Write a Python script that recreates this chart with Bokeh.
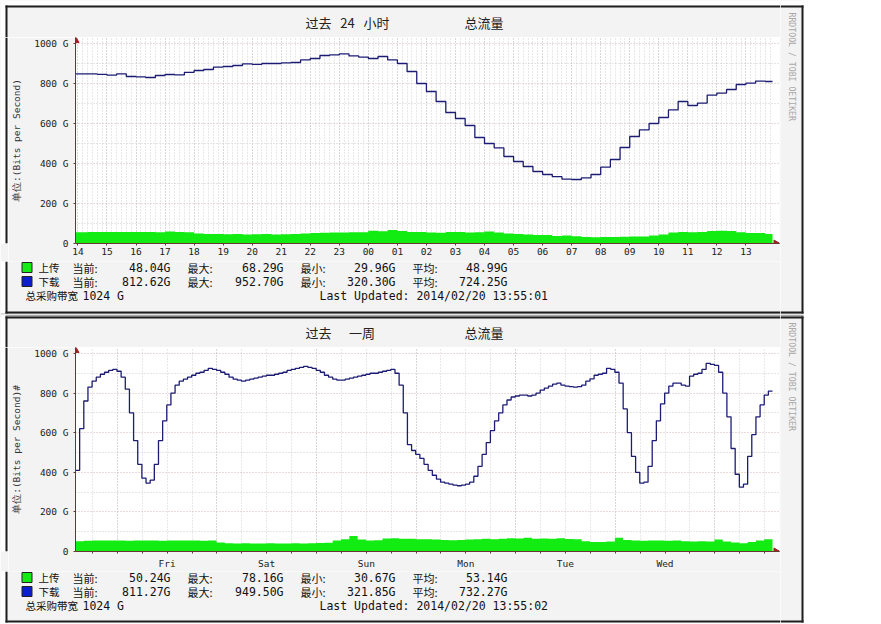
import math
from bokeh.plotting import figure
from bokeh.models import FixedTicker, Range1d
from bokeh.core.properties import value
from bokeh.layouts import column, row
from bokeh.embed import file_html
from bokeh.resources import INLINE

# ---------------- data ----------------
# last 24 hours, 20-minute samples starting 14:00 (hours since 02/19 00:00)
day_start, day_end = 13 + 55 / 60, 37 + 55 / 60
day_download = [848, 848, 846, 842, 848, 835, 833, 830, 840, 845,
                843, 856, 865, 870, 882, 885, 890, 898, 896, 900,
                900, 903, 905, 918, 925, 940, 943, 948, 938, 932,
                925, 935, 918, 900, 860, 800, 760, 710, 655, 625,
                590, 530, 500, 478, 435, 410, 385, 360, 345, 334,
                322, 320, 328, 345, 382, 420, 480, 535, 568, 600,
                630, 668, 710, 690, 702, 742, 752, 770, 795, 802,
                812, 810]
day_upload = [56, 57, 58, 57, 58, 57, 57, 58, 56, 60,
              57, 56, 50, 48, 47, 46, 47, 45, 46, 47,
              45, 46, 48, 50, 52, 54, 55, 55, 56, 56,
              64, 61, 68, 62, 58, 57, 55, 54, 57, 57,
              55, 56, 60, 55, 50, 48, 45, 42, 42, 38,
              40, 36, 32, 31, 32, 33, 34, 35, 35, 40,
              45, 55, 57, 56, 57, 62, 64, 62, 56, 52,
              52, 48]
day_tick_hours = list(range(14, 38))
day_tick_labels = ["14", "15", "16", "17", "18", "19", "20", "21", "22", "23", "00", "01",
                   "02", "03", "04", "05", "06", "07", "08", "09", "10", "11", "12", "13"]

# last week, hourly download / 2-hourly upload (hours since Thu 02/13 00:00)
week_start, week_end = 13 + 55 / 60, 181 + 55 / 60
week_download = [410, 620, 760, 830, 860, 880, 895, 905, 915, 920,
                 910, 880, 820, 700, 560, 440, 370, 345, 360, 440, 560, 660, 740, 800,
                 840, 860, 870, 880, 890, 900, 905, 915, 925, 920,
                 915, 905, 895, 880, 870, 865, 860, 865, 870, 875, 880, 885, 890, 890,
                 895, 900, 905, 915, 920, 925, 930, 935, 930, 925,
                 915, 905, 890, 880, 870, 865, 865, 870, 875, 880, 885, 890, 895, 900,
                 900, 905, 910, 915, 920, 900, 840, 700, 540, 510,
                 490, 470, 440, 410, 385, 365, 350, 345, 340, 335, 332, 335, 340, 350,
                 380, 430, 490, 550, 610, 660, 700, 740, 765, 780,
                 785, 790, 790, 785, 790, 800, 815, 825, 835, 845, 850, 840, 835, 832,
                 830, 832, 840, 860, 872, 890, 895, 900, 925, 920,
                 905, 850, 720, 600, 480, 400, 345, 350, 430, 560, 660, 745, 800, 835,
                 850, 850, 840, 835, 885, 895, 900, 920, 950, 945,
                 940, 905, 800, 680, 520, 390, 325, 340, 480, 590, 680, 740, 790, 810]
week_upload = [52, 54, 55, 55, 56, 55, 54, 55, 56, 55,
               54, 55, 55, 56, 55, 54, 55, 45, 42, 41,
               42, 40, 41, 42, 41, 40, 42, 41, 42, 43,
               44, 55, 62, 78, 60, 56, 57, 66, 67, 65,
               64, 62, 62, 60, 58, 57, 58, 60, 62, 64,
               62, 65, 67, 66, 70, 65, 66, 64, 67, 63,
               62, 52, 48, 48, 50, 70, 58, 56, 54, 55,
               56, 54, 55, 52, 50, 52, 50, 60, 50, 45,
               42, 48, 55, 62]
week_tick_hours = [36, 60, 84, 108, 132, 156]
week_tick_labels = ["Fri", "Sat", "Sun", "Mon", "Tue", "Wed"]

y_ticks = [0, 200, 400, 600, 800, 1000]
y_tick_labels = ["0", "200 G", "400 G", "600 G", "800 G", "1000 G"]

stat_names = ["当前:", "最大:", "最小:", "平均:"]
day_up_stats = ["48.04G", "68.29G", "29.96G", "48.99G"]
day_down_stats = ["812.62G", "952.70G", "320.30G", "724.25G"]
week_up_stats = ["50.24G", "78.16G", "30.67G", "53.14G"]
week_down_stats = ["811.27G", "949.50G", "321.85G", "732.27G"]
series_names = ["上传", "下载"]
bandwidth = "1024 G"
day_updated = "Last Updated: 2014/02/20 13:55:01"
week_updated = "Last Updated: 2014/02/20 13:55:02"
NB = "\u00a0"
day_title = ("过去" + NB * 3 + "24" + NB * 3 + "小时", "总流量")
week_title = ("过去" + NB * 6 + "一周", "总流量")

GREEN = "#12ec12"
BLUE_LINE = "#1c1c74"
BLUE_BOX = "#0a1ed0"
AXIS = "#6b3434"
ARROW = "#a02222"
PANEL = "#f3f3f3"
DARK = "#1e1e1e"
GAP = "#a8a8a8"
MONO = "DejaVu Sans Mono"
CJK = "Noto Sans CJK SC"


def blank(w, h, x0, y0):
    """A plain canvas whose frame is the whole figure; x = page px, y = panel px (downward)."""
    f = figure(width=w, height=h, x_range=Range1d(x0, x0 + w), y_range=Range1d(y0 + h, y0),
               output_backend="svg", toolbar_location=None,
               x_axis_location=None, y_axis_location=None,
               min_border_left=0, min_border_right=0, min_border_top=0, min_border_bottom=0,
               background_fill_color=PANEL, border_fill_color=PANEL, outline_line_color=None)
    f.grid.visible = False
    return f


def rect(f, l, r, t, b, color, line=None):
    f.quad(left=[l], right=[r], top=[t], bottom=[b], fill_color=color, line_color=line)


def text(f, x, y, s, size="11.5px", font=MONO, color="#111111", align="left", angle=0.0):
    f.text(x=[x], y=[y], text=[s], text_font=value(font), text_font_size=value(size),
           text_color=color, text_align=align, text_baseline="middle", angle=angle)


def make_panel(title, ylabel, xs, xe, H, box_top, box_bottom,
               frame_top, frame_bottom, t_dl, dl, t_ul, ul,
               tick_pos, tick_labels, tick_minor, grid_major, grid_minor,
               up_stats, down_stats, updated, tick_out, gap_top, gap_bottom):
    mid_h = frame_bottom - frame_top + 18
    foot_top = frame_top + mid_h

    # ---- header: margin, border, title
    head = blank(780, frame_top, 0, 0)
    rect(head, 0, 780, 0, box_top, gap_top)
    rect(head, 0, 5, 0, frame_top, "white")
    rect(head, 5, 780, box_top, box_top + 2, DARK)
    rect(head, 5, 7, box_top, frame_top, DARK)
    ty = frame_bottom - 221
    text(head, 305, ty, title[0], size="13px", font=CJK, color="#222222")
    text(head, 503, ty, title[1], size="13px", font=CJK, color="#222222", align="right")

    # ---- left strip beside the chart
    lst = blank(8, mid_h, 0, frame_top)
    rect(lst, 0, 5, frame_top, foot_top, "white")
    rect(lst, 5, 7, frame_top, foot_top, DARK)

    # ---- chart
    span = xe - xs
    x_end = xs + span * 707 / 700
    y_top = 1000 + (frame_bottom - 200 - frame_top) * 5
    p = figure(width=772, height=mid_h, x_range=Range1d(xs, x_end), y_range=Range1d(0, y_top),
               output_backend="svg", toolbar_location=None,
               min_border_left=64, min_border_right=1, min_border_top=0, min_border_bottom=18,
               border_fill_color=PANEL, background_fill_color="white", outline_line_color=None)

    p.xgrid.ticker = FixedTicker(ticks=grid_major, minor_ticks=grid_minor)
    p.xgrid.grid_line_color = "#c6c6c6"
    p.xgrid.grid_line_dash = "1 2"
    p.xgrid.minor_grid_line_color = "#d0d0d0"
    p.xgrid.minor_grid_line_dash = "1 2"
    p.ygrid.ticker = FixedTicker(ticks=y_ticks[1:], minor_ticks=[100, 300, 500, 700, 900])
    p.ygrid.grid_line_color = "#d8b4b4"
    p.ygrid.grid_line_dash = "1 2"
    p.ygrid.minor_grid_line_color = "#cccccc"
    p.ygrid.minor_grid_line_dash = "1 2"

    p.xaxis.ticker = FixedTicker(ticks=tick_pos, minor_ticks=tick_minor)
    p.xaxis.major_label_overrides = dict(zip(tick_pos, tick_labels))
    p.xaxis.major_label_text_font = MONO
    p.xaxis.major_label_text_font_size = "9.5px"
    p.xaxis.major_label_text_color = "#222222"
    p.xaxis.axis_line_color = AXIS
    p.xaxis.major_tick_line_color = AXIS
    p.xaxis.minor_tick_line_color = AXIS
    p.xaxis.major_tick_in = 0
    p.xaxis.major_tick_out = tick_out
    p.xaxis.minor_tick_in = 0
    p.xaxis.minor_tick_out = 2
    p.xaxis.major_label_standoff = 4 - tick_out

    p.yaxis.ticker = FixedTicker(ticks=y_ticks)
    p.yaxis.major_label_overrides = dict(zip(y_ticks, y_tick_labels))
    p.yaxis.major_label_text_font = MONO
    p.yaxis.major_label_text_font_size = "9.5px"
    p.yaxis.major_label_text_color = "#222222"
    p.yaxis.axis_line_color = AXIS
    p.yaxis.major_tick_line_color = AXIS
    p.yaxis.major_tick_in = 0
    p.yaxis.major_tick_out = 2
    p.yaxis.major_label_standoff = 5
    p.yaxis.axis_label = ylabel
    p.yaxis.axis_label_text_font = MONO
    p.yaxis.axis_label_text_font_size = "9.5px"
    p.yaxis.axis_label_text_font_style = "normal"
    p.yaxis.axis_label_text_color = "#333333"
    p.yaxis.axis_label_standoff = 9

    p.varea_step(x=t_ul, y1=0, y2=ul, step_mode="after", fill_color=GREEN)
    p.step(x=t_dl, y=dl, mode="after", line_color=BLUE_LINE, line_width=1.3)

    # arrow heads at the ends of the two axes
    px_per_x = 700 / span
    p.scatter(x=[xs], y=[1000 + 3 * 5], marker="triangle", size=7,
              fill_color=ARROW, line_color=ARROW)
    p.scatter(x=[xe + 3.5 / px_per_x], y=[0], marker="triangle", size=7, angle=-math.pi / 2,
              fill_color=ARROW, line_color=ARROW)

    # ---- footer: legend lines
    foot_h = H - foot_top
    foot = blank(780, foot_h, 0, foot_top)
    rect(foot, 0, 5, foot_top, H, "white")
    rect(foot, 0, 780, box_bottom + 1, H, gap_bottom)
    rect(foot, 5, 7, foot_top, box_bottom + 1, DARK)
    rect(foot, 5, 780, box_bottom - 1, box_bottom + 1, DARK)
    r1, r2, r3 = frame_bottom + 24, frame_bottom + 38, frame_bottom + 52
    for ry, name, col, stats in [(r1, series_names[0], GREEN, up_stats),
                                 (r2, series_names[1], BLUE_BOX, down_stats)]:
        rect(foot, 21.5, 31.5, ry - 5, ry + 5, col, line="#222222")
        text(foot, 38, ry, name, size="10.5px", font=CJK)
        for lx, vx, nm, v in zip([72, 187, 300, 412], [170, 283, 395, 507], stat_names, stats):
            text(foot, lx, ry, nm, size="11px", font=CJK)
            text(foot, vx, ry, v, align="right")
    text(foot, 25, r3, "总采购带宽", size="10.5px", font=CJK)
    text(foot, 82, r3, bandwidth)
    text(foot, 319, r3, updated)

    # ---- right strip with the vertical credit
    rs = blank(24, H, 780, 0)
    rect(rs, 780, 804, 0, box_top, gap_top)
    rect(rs, 780, 804, box_bottom + 1, H, gap_bottom)
    rect(rs, 803, 804, 0, H, "white")
    rect(rs, 780, 803, box_top, box_top + 2, DARK)
    rect(rs, 780, 803, box_bottom - 1, box_bottom + 1, DARK)
    rect(rs, 801, 803, box_top, box_bottom + 1, DARK)
    text(rs, 791, frame_bottom - 231, "RRDTOOL / TOBI OETIKER", size="8.2px",
         color="#a8a8a8", angle=-math.pi / 2)

    left = column(head, row(lst, p, spacing=0), foot, spacing=0)
    return row(left, rs, spacing=0)


# sample times
day_t_dl = [day_start] + [14 + k / 3 for k in range(len(day_download))] + [day_end]
day_dl = [day_download[0]] + day_download + [day_download[-1]]
day_t_ul = [day_start] + [14 + k / 3 for k in range(len(day_upload))] + [day_end]
day_ul = [day_upload[0]] + day_upload + [day_upload[-1]]

week_t_dl = [week_start + k for k in range(len(week_download))] + [week_end]
week_dl = week_download + [week_download[-1]]
week_t_ul = [week_start + 2 * k for k in range(len(week_upload))] + [week_end]
week_ul = week_upload + [50]

panel1 = make_panel(day_title, "单位:(Bits per Second)",
                    day_start, day_end, 314, 5, 312, 37, 243,
                    day_t_dl, day_dl, day_t_ul, day_ul,
                    day_tick_hours, day_tick_labels, [],
                    day_tick_hours, [14 + k / 6 for k in range(-1, 144)],
                    day_up_stats, day_down_stats, day_updated, 2, "white", GAP)

panel2 = make_panel(week_title, "单位:(Bits per Second)#",
                    week_start, week_end, 310, 2, 307, 33, 239,
                    week_t_dl, week_dl, week_t_ul, week_ul,
                    week_tick_hours, week_tick_labels, [18 + 6 * k for k in range(28)],
                    [24 * d for d in range(1, 8)], [18 + 6 * k for k in range(28)],
                    week_up_stats, week_down_stats, week_updated, 0, GAP, "white")

layout = column(panel1, panel2, spacing=0)
open("out.html", "w").write(file_html(layout, INLINE))
